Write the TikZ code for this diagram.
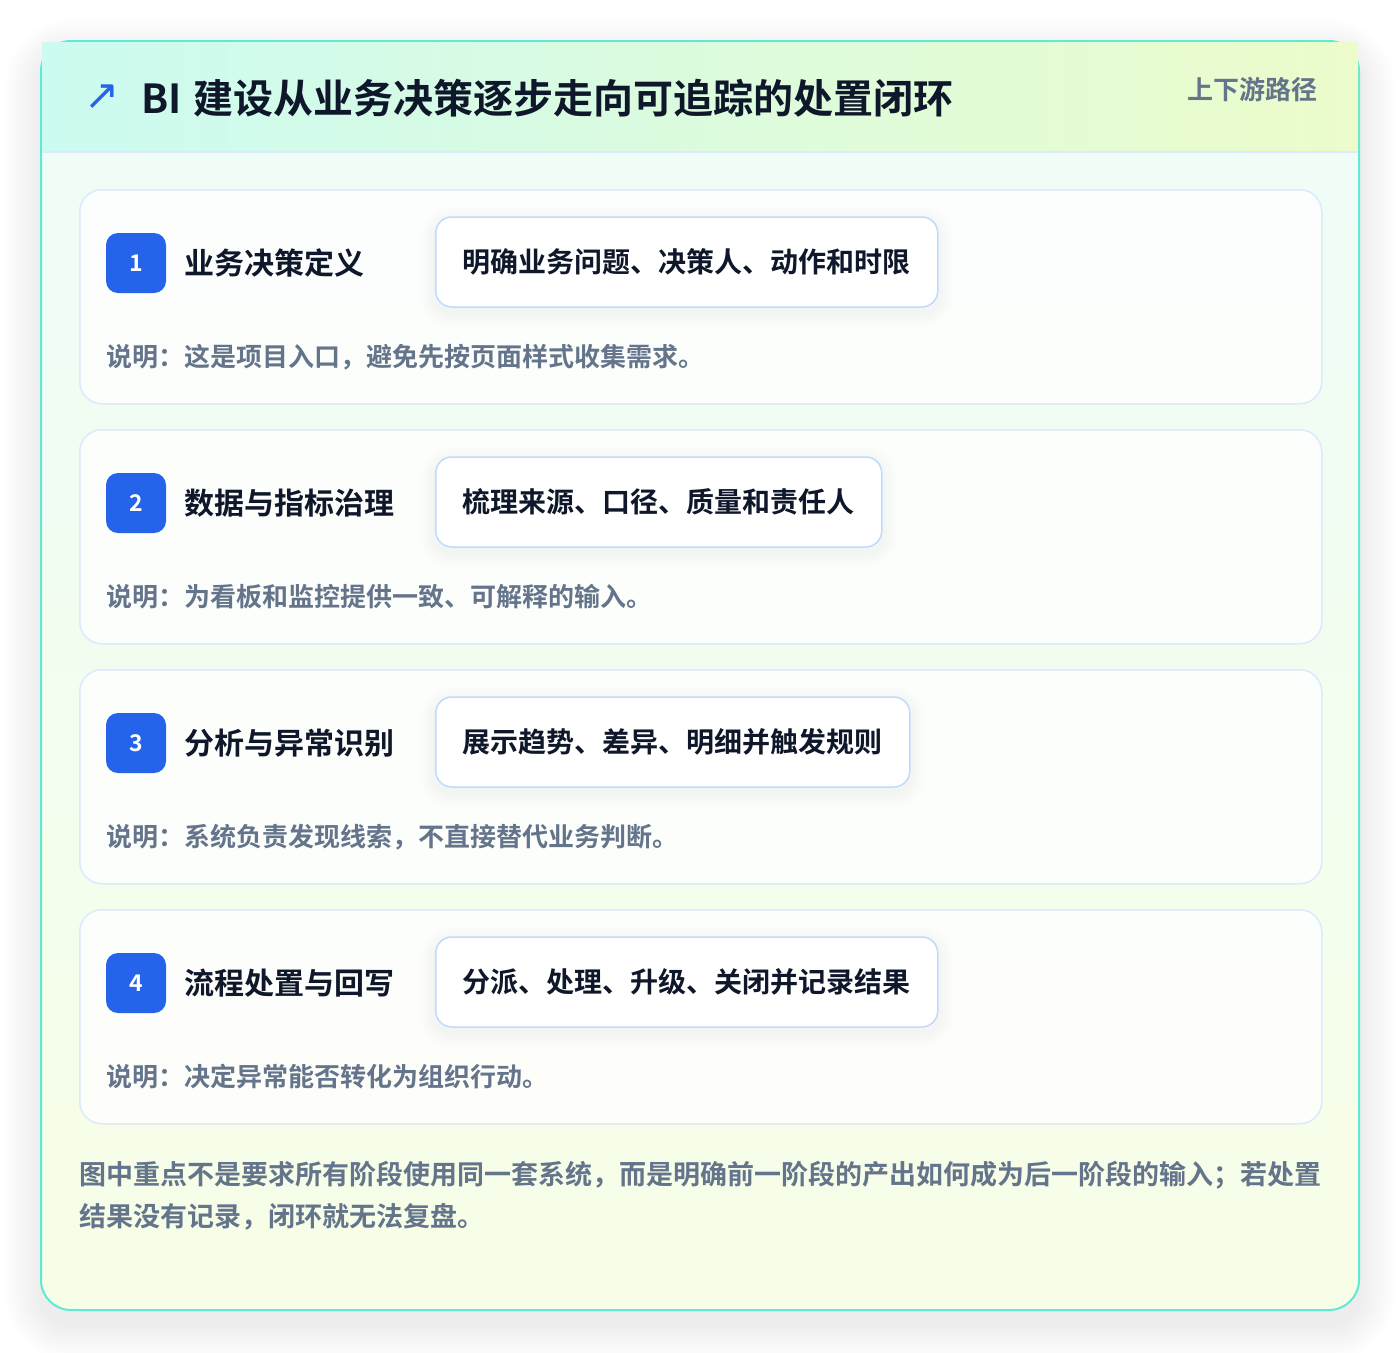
\documentclass[tikz,border=0pt]{standalone}
\usepackage{fontspec}
\setmainfont{Noto Sans CJK SC}[BoldFont={Noto Sans CJK SC Bold}]
\newfontfamily\symfont{DejaVu Sans}
\definecolor{cink}{HTML}{0F172A}
\definecolor{cmuted}{HTML}{64748B}
\definecolor{cblue}{HTML}{2563EB}
\definecolor{cteal}{HTML}{5EEAD4}
\definecolor{cline}{HTML}{DBEAFE}
\definecolor{cpill}{HTML}{BFDBFE}
\definecolor{chead1}{HTML}{CCFBF1}
\definecolor{chead2}{HTML}{ECFCCB}
\definecolor{cbody1}{HTML}{EEFDF8}
\definecolor{cbody2}{HTML}{F7FEE7}
\newcommand{\fsz}[1]{\fontsize{#1}{#1}\selectfont}
\pgfdeclarelayer{back}
\pgfdeclarelayer{mid}
\pgfsetlayers{back,mid,main}
\begin{document}
\begin{tikzpicture}[x=1pt,y=-1pt,
  stagecard/.style={draw=cline, line width=1.5pt, fill=white, fill opacity=0.8,
    rounded corners=22pt, minimum width=1242pt, minimum height=214pt,
    anchor=north west, inner sep=0pt},
  badge/.style={fill=cblue, rounded corners=12pt, minimum size=60pt, inner sep=0pt,
    text=white, font=\bfseries\fsz{23}},
  stagetitle/.style={anchor=west, inner sep=0pt, text=cink, font=\bfseries\fsz{30}},
  pill/.style={anchor=west, draw=cpill, line width=1.5pt, fill=white,
    rounded corners=16pt, minimum height=90pt, inner xsep=27pt, inner ysep=0pt,
    text=cink, font=\bfseries\fsz{28}},
  desc/.style={anchor=west, inner sep=0pt, text=cmuted, font=\bfseries\fsz{26}},
  note/.style={anchor=west, inner sep=0pt, text=cmuted, font=\bfseries\fsz{27}}
]
\useasboundingbox (0,0) rectangle (1400,1352);
\begin{pgfonlayer}{back}
\fill[white] (0,0) rectangle (1400,1352);
% soft shadow of the main card
\foreach \k in {1,...,18}{
  \pgfmathsetmacro{\rr}{30+2*\k}
  \fill[black, opacity=0.0045, rounded corners=\rr pt]
    (41-2*\k, 41-2*\k+14) rectangle (1359+2*\k, 1310+2*\k+14);
}
% main card
\path[top color=cbody1, bottom color=cbody2, rounded corners=30pt] (41,41) rectangle (1359,1310);
\draw[cteal, line width=2pt, rounded corners=30pt] (41,41) rectangle (1359,1310);
% header
\path[left color=chead1, right color=chead2] (42,42) rectangle (1358,152);
\draw[cline, line width=2pt] (42,152) -- (1358,152);
\end{pgfonlayer}
\node[inner sep=0pt, text=cblue, font=\symfont\fsz{42}] (icon) at (102,97) {↗};
\node[anchor=west, inner sep=0pt, text=cink, font=\bfseries\fsz{40}] (title) at (141,98)
  {BI\hspace{3pt} 建设从业务决策逐步走向可追踪的处置闭环};
\node[anchor=east, inner sep=0pt, text=cmuted, font=\bfseries\fsz{26}] (tag) at (1318,90) {上下游路径};
% stages
\foreach \i/\ttl/\act/\dsc in {
  1/业务决策定义/明确业务问题、决策人、动作和时限/说明：这是项目入口，避免先按页面样式收集需求。,
  2/数据与指标治理/梳理来源、口径、质量和责任人/说明：为看板和监控提供一致、可解释的输入。,
  3/分析与异常识别/展示趋势、差异、明细并触发规则/说明：系统负责发现线索，不直接替代业务判断。,
  4/流程处置与回写/分派、处理、升级、关闭并记录结果/说明：决定异常能否转化为组织行动。}{
  \pgfmathsetmacro{\top}{189+240*(\i-1)}
  \begin{pgfonlayer}{back}
    \node[stagecard] (card\i) at (79,\top) {};
  \end{pgfonlayer}
  \node[badge] (badge\i) at (136,\top+74) {\i};
  \node[stagetitle] (title\i) at (184,\top+74) {\ttl};
  \node[pill] (pill\i) at (435,\top+73) {\act};
  \begin{pgfonlayer}{mid}
    \foreach \k in {1,...,9}{
      \pgfmathsetmacro{\rr}{16+1.6*\k}
      \fill[black, opacity=0.005, rounded corners=\rr pt]
        ([xshift=-1.6*\k pt, yshift=1.6*\k pt-5pt]pill\i.north west) rectangle
        ([xshift=1.6*\k pt, yshift=-1.6*\k pt-5pt]pill\i.south east);
    }
  \end{pgfonlayer}
  \node[desc] (desc\i) at (106,\top+168) {\dsc};
}
% footer note
\node[note] (note1) at (79,1175)
  {图中重点不是要求所有阶段使用同一套系统，而是明确前一阶段的产出如何成为后一阶段的输入；若处置};
\node[note] (note2) at (79,1217) {结果没有记录，闭环就无法复盘。};
\end{tikzpicture}
\end{document}
